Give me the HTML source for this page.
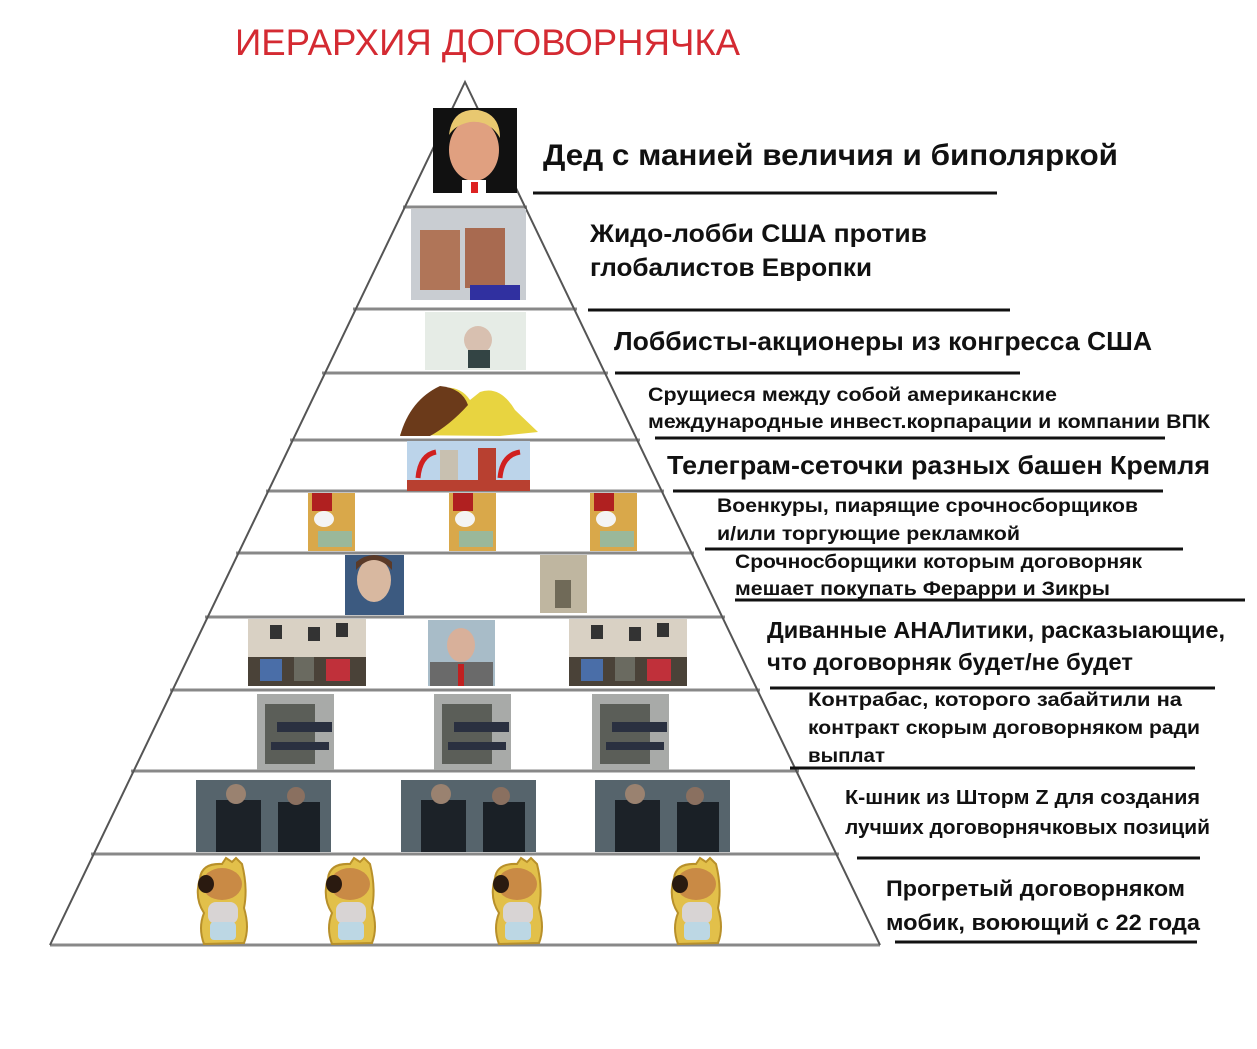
<!DOCTYPE html>
<html><head><meta charset="utf-8"><style>
html,body{margin:0;padding:0;background:#fff;}
svg{display:block;}
text{font-family:"Liberation Sans","Noto Sans CJK SC",sans-serif;font-weight:bold;fill:#111;}
</style></head><body>
<svg width="1257" height="1049" viewBox="0 0 1257 1049" xmlns="http://www.w3.org/2000/svg">
<defs>
<g id="bear">
<path d="M8,20 Q10,5 30,6 L34,0 L40,4 L44,0 L50,6 Q56,30 52,50 Q58,70 52,85 L12,86 Q6,70 12,55 Q2,40 8,20Z" fill="#e2c04a" stroke="#b8902a" stroke-width="2"/>
<ellipse cx="30" cy="26" rx="20" ry="16" fill="#c98a45"/>
<ellipse cx="14" cy="26" rx="8" ry="9" fill="#2a1a10"/>
<rect x="16" y="44" width="30" height="22" rx="8" fill="#d8d4d4"/>
<rect x="18" y="64" width="26" height="18" rx="4" fill="#bcd7e4"/>
</g>
<g id="scrooge">
<rect width="47" height="58" fill="#d9a84a"/>
<rect x="4" y="0" width="20" height="18" fill="#b02020"/>
<ellipse cx="16" cy="26" rx="10" ry="8" fill="#f4f4f4"/>
<rect x="10" y="38" width="34" height="16" fill="#9ab89a"/>
</g>
<g id="couch">
<rect width="118" height="67" fill="#d9d1c4"/>
<rect y="38" width="118" height="29" fill="#4a4238"/>
<rect x="12" y="40" width="22" height="22" fill="#4a6ea8"/>
<rect x="46" y="38" width="20" height="24" fill="#6a6a60"/>
<rect x="78" y="40" width="24" height="22" fill="#c0303a"/>
<rect x="22" y="6" width="12" height="14" fill="#333"/><rect x="60" y="8" width="12" height="14" fill="#333"/><rect x="88" y="4" width="12" height="14" fill="#333"/>
</g>
<g id="soldier">
<rect width="77" height="76" fill="#a8aaa8"/>
<rect x="8" y="10" width="50" height="60" fill="#5b5e58"/>
<rect x="20" y="28" width="55" height="10" fill="#2a3040"/>
<rect x="14" y="48" width="58" height="8" fill="#2a3040"/>
</g>
<g id="storm">
<rect width="135" height="72" fill="#56646c"/>
<rect x="20" y="20" width="45" height="52" fill="#1c2228"/>
<rect x="82" y="22" width="42" height="50" fill="#1a2026"/>
<circle cx="40" cy="14" r="10" fill="#9a8270"/>
<circle cx="100" cy="16" r="9" fill="#8a7060"/>
</g>
</defs>

<text x="235" y="55" font-size="37" textLength="505" lengthAdjust="spacingAndGlyphs" style="fill:#d42a32;font-weight:normal">ИЕРАРХИЯ ДОГОВОРНЯЧКА</text>

<g stroke="#888" stroke-width="3">
<line x1="403" y1="207" x2="527" y2="207"/>
<line x1="353" y1="309" x2="577" y2="309"/>
<line x1="322" y1="373" x2="608" y2="373"/>
<line x1="290" y1="440" x2="640" y2="440"/>
<line x1="266" y1="491" x2="664" y2="491"/>
<line x1="236" y1="553" x2="694" y2="553"/>
<line x1="205" y1="617" x2="725" y2="617"/>
<line x1="170" y1="690" x2="760" y2="690"/>
<line x1="131" y1="771" x2="799" y2="771"/>
<line x1="91" y1="854" x2="839" y2="854"/>
<line x1="50" y1="945" x2="880" y2="945"/>
</g>
<polyline points="50,945 465,82 880,945" fill="none" stroke="#555" stroke-width="2"/>

<g stroke="#111" stroke-width="3">
<line x1="533" y1="193" x2="997" y2="193"/>
<line x1="588" y1="310" x2="1010" y2="310"/>
<line x1="615" y1="373" x2="1020" y2="373"/>
<line x1="655" y1="438" x2="1165" y2="438"/>
<line x1="673" y1="491" x2="1163" y2="491"/>
<line x1="705" y1="549" x2="1183" y2="549"/>
<line x1="735" y1="600" x2="1245" y2="600"/>
<line x1="770" y1="688" x2="1215" y2="688"/>
<line x1="790" y1="768" x2="1195" y2="768"/>
<line x1="857" y1="858" x2="1200" y2="858"/>
<line x1="895" y1="942" x2="1197" y2="942"/>
</g>

<rect x="433" y="108" width="84" height="85" fill="#111"/>
<ellipse cx="474" cy="150" rx="25" ry="31" fill="#e0a080"/>
<path d="M449,135 Q452,108 478,110 Q500,114 500,138 Q490,120 470,122 Q455,125 449,135Z" fill="#e8c870"/>
<rect x="462" y="180" width="24" height="13" fill="#fff"/><rect x="471" y="182" width="7" height="11" fill="#d22"/>

<rect x="411" y="209" width="115" height="91" fill="#c9cdd2"/>
<rect x="420" y="230" width="40" height="60" fill="#b07558"/><rect x="465" y="228" width="40" height="60" fill="#a86a50"/>
<rect x="470" y="285" width="50" height="15" fill="#3030a0"/>

<rect x="425" y="312" width="101" height="58" fill="#e6ece6"/>
<circle cx="478" cy="340" r="14" fill="#d8c0b0"/><rect x="468" y="350" width="22" height="18" fill="#344"/>

<path d="M400,435 Q420,395 440,388 Q460,385 470,400 L480,392 Q500,385 515,410 L538,432 L500,436 Z" fill="#e8d440"/>
<path d="M400,436 Q410,400 440,386 Q462,388 468,405 Q450,425 430,436 Z" fill="#6b3a1a"/>

<rect x="407" y="441" width="123" height="50" fill="#bcd4ea"/>
<rect x="440" y="450" width="18" height="41" fill="#c8c0b0"/><rect x="478" y="448" width="18" height="43" fill="#b84030"/>
<rect x="407" y="480" width="123" height="11" fill="#b84030"/>
<path d="M418,478 Q420,455 436,452" stroke="#d02020" stroke-width="5" fill="none"/>
<path d="M500,478 Q502,455 520,452" stroke="#d02020" stroke-width="5" fill="none"/>

<use href="#scrooge" x="308" y="493"/><use href="#scrooge" x="449" y="493"/><use href="#scrooge" x="590" y="493"/>

<rect x="345" y="555" width="59" height="60" fill="#3c5a80"/><ellipse cx="374" cy="580" rx="17" ry="22" fill="#d8b8a0"/><path d="M356,570 Q374,550 392,570 L392,562 Q374,548 356,562Z" fill="#5a3a28"/>
<rect x="540" y="555" width="47" height="58" fill="#bfb6a0"/><rect x="555" y="580" width="16" height="28" fill="#706a58"/>

<use href="#couch" x="248" y="619"/>
<rect x="428" y="620" width="67" height="66" fill="#a8bcc8"/><ellipse cx="461" cy="645" rx="14" ry="17" fill="#d8b09a"/><rect x="430" y="662" width="63" height="24" fill="#6a6a6a"/><rect x="458" y="664" width="6" height="22" fill="#c02020"/>
<use href="#couch" x="569" y="619"/>

<use href="#soldier" x="257" y="694"/><use href="#soldier" x="434" y="694"/><use href="#soldier" x="592" y="694"/>
<use href="#storm" x="196" y="780"/><use href="#storm" x="401" y="780"/><use href="#storm" x="595" y="780"/>
<use href="#bear" x="192" y="858"/><use href="#bear" x="320" y="858"/><use href="#bear" x="487" y="858"/><use href="#bear" x="666" y="858"/>

<text x="543" y="165" font-size="30" textLength="575" lengthAdjust="spacingAndGlyphs">Дед с манией величия и биполяркой</text>
<text x="590" y="242" font-size="25" textLength="337" lengthAdjust="spacingAndGlyphs">Жидо-лобби США против</text>
<text x="590" y="276" font-size="25" textLength="282" lengthAdjust="spacingAndGlyphs">глобалистов Европки</text>
<text x="614" y="350" font-size="26" textLength="538" lengthAdjust="spacingAndGlyphs">Лоббисты-акционеры из конгресса США</text>
<text x="648" y="401" font-size="19" textLength="409" lengthAdjust="spacingAndGlyphs">Срущиеся между собой американские</text>
<text x="648" y="428" font-size="19" textLength="562" lengthAdjust="spacingAndGlyphs">международные инвест.корпарации и компании ВПК</text>
<text x="667" y="474" font-size="26" textLength="543" lengthAdjust="spacingAndGlyphs">Телеграм-сеточки разных башен Кремля</text>
<text x="717" y="512" font-size="19" textLength="421" lengthAdjust="spacingAndGlyphs">Военкуры, пиарящие срочносборщиков</text>
<text x="717" y="540" font-size="19" textLength="303" lengthAdjust="spacingAndGlyphs">и/или торгующие рекламкой</text>
<text x="735" y="568" font-size="19" textLength="407" lengthAdjust="spacingAndGlyphs">Срочносборщики которым договорняк</text>
<text x="735" y="595" font-size="19" textLength="375" lengthAdjust="spacingAndGlyphs">мешает покупать Ферарри и Зикры</text>
<text x="767" y="638" font-size="23" textLength="458" lengthAdjust="spacingAndGlyphs">Диванные АНАЛитики, расказыающие,</text>
<text x="767" y="670" font-size="23" textLength="366" lengthAdjust="spacingAndGlyphs">что договорняк будет/не будет</text>
<text x="808" y="706" font-size="19" textLength="374" lengthAdjust="spacingAndGlyphs">Контрабас, которого забайтили на</text>
<text x="808" y="734" font-size="19" textLength="392" lengthAdjust="spacingAndGlyphs">контракт скорым договорняком ради</text>
<text x="808" y="762" font-size="19" textLength="77" lengthAdjust="spacingAndGlyphs">выплат</text>
<text x="845" y="804" font-size="20" textLength="355" lengthAdjust="spacingAndGlyphs">К-шник из Шторм Z для создания</text>
<text x="845" y="834" font-size="20" textLength="365" lengthAdjust="spacingAndGlyphs">лучших договорнячковых позиций</text>
<text x="886" y="896" font-size="22" textLength="299" lengthAdjust="spacingAndGlyphs">Прогретый договорняком</text>
<text x="886" y="930" font-size="22" textLength="314" lengthAdjust="spacingAndGlyphs">мобик, воюющий с 22 года</text>
</svg>
</body></html>
